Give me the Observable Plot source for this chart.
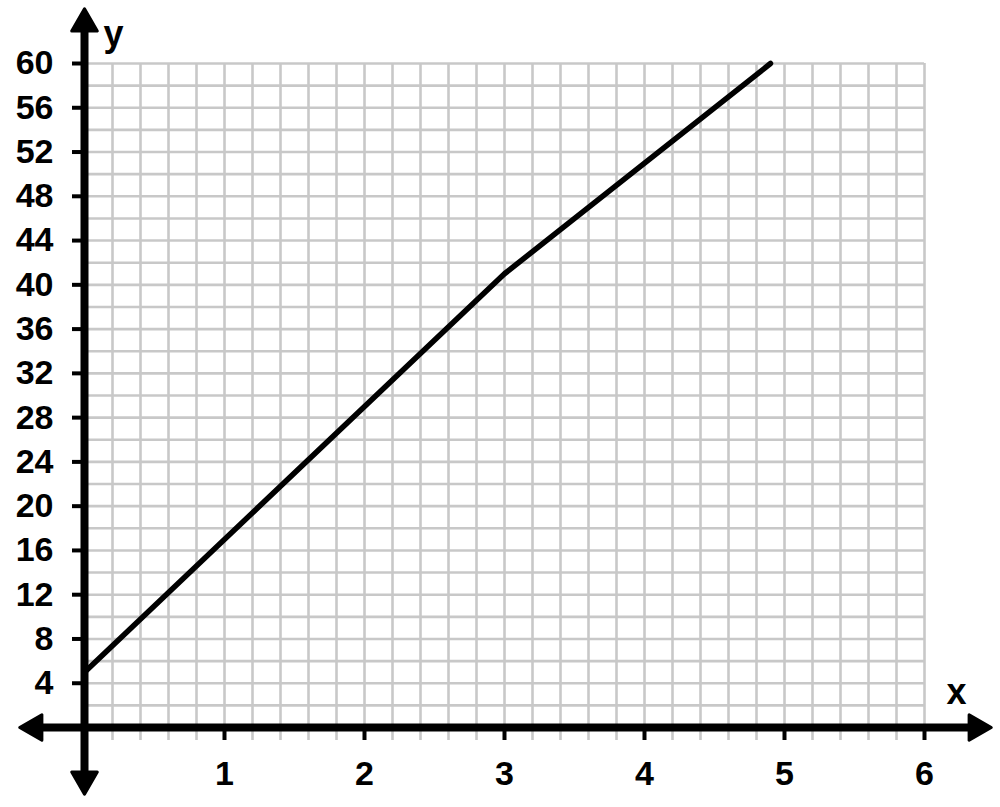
<!DOCTYPE html>
<html>
<head>
<meta charset="utf-8">
<script src="https://cdn.jsdelivr.net/npm/d3@7"></script>
<script src="https://cdn.jsdelivr.net/npm/@observablehq/plot@0.6"></script>
<style>
  html, body { margin: 0; padding: 0; background: #fff; }
  #chart svg { display: block; overflow: visible; }
</style>
</head>
<body>
<div id="chart"></div>
<script>
// Series (piecewise linear)
const xValues = [0, 3, 4.9];
const yValues = [5, 41, 60];

// Tick labels
const xTicks = [1, 2, 3, 4, 5, 6];
const yTicks = [4, 8, 12, 16, 20, 24, 28, 32, 36, 40, 44, 48, 52, 56, 60];

// Grid spacing
const xGrid = d3.range(1, 31).map(i => i / 5);
const yGrid = d3.range(2, 61, 2);

const axisLabels = ["x", "y"];

const data = xValues.map((x, i) => ({x, y: yValues[i]}));

const font = "Liberation Sans, Arial, Helvetica, sans-serif";
const gridColor = "#c8c8c8";
const arrow = {r: 9.5, fill: "#000", stroke: "#000", strokeWidth: 3, strokeLinejoin: "round", symbol: "triangle"};
const nameStyle = {fontSize: 36, fontWeight: "bold", fontFamily: font, fill: "#000", textAnchor: "middle", lineAnchor: "middle"};

const chart = Plot.plot({
  width: 1000,
  height: 807,
  marginLeft: 84,
  marginRight: 76,
  marginTop: 63,
  marginBottom: 80,
  style: {background: "#fff", fontFamily: font, overflow: "visible"},
  x: {domain: [0, 6]},
  y: {domain: [0, 60]},
  marks: [
    // grid
    Plot.ruleX(xGrid, {stroke: gridColor, strokeWidth: 2.6, insetBottom: -13}),
    Plot.ruleY(yGrid, {stroke: gridColor, strokeWidth: 2.6}),
    // data line
    Plot.line(data, {x: "x", y: "y", stroke: "#000", strokeWidth: 5.5}),
    // axes lines
    Plot.ruleY([0], {stroke: "#000", strokeWidth: 8, insetLeft: -52, insetRight: -52}),
    Plot.ruleX([0], {stroke: "#000", strokeWidth: 8, insetTop: -42, insetBottom: -52}),
    // arrowheads
    Plot.dot([0], {...arrow, frameAnchor: "bottom-left", dx: -50, rotate: -90}),
    Plot.dot([0], {...arrow, frameAnchor: "bottom-right", dx: 52, rotate: 90}),
    Plot.dot([0], {...arrow, frameAnchor: "top-left", dy: -40, rotate: 0}),
    Plot.dot([0], {...arrow, frameAnchor: "bottom-left", dy: 52, rotate: 180}),
    // axes ticks and labels
    Plot.axisY({ticks: yTicks, tickFormat: d => String(d), tickSize: 12, tickPadding: 19, strokeWidth: 4, fontSize: 34, fontWeight: "bold", fontFamily: font, label: null, fill: "#000"}),
    Plot.axisX({ticks: xTicks, tickFormat: d => String(d), tickSize: 13, tickPadding: 20, strokeWidth: 4, fontSize: 34, fontWeight: "bold", fontFamily: font, label: null, fill: "#000"}),
    // axis names
    Plot.text([axisLabels[1]], {...nameStyle, frameAnchor: "top-left", dx: 29, dy: -29}),
    Plot.text([axisLabels[0]], {...nameStyle, frameAnchor: "bottom-right", dx: 32, dy: -35})
  ]
});

document.getElementById("chart").appendChild(chart);
</script>
</body>
</html>
